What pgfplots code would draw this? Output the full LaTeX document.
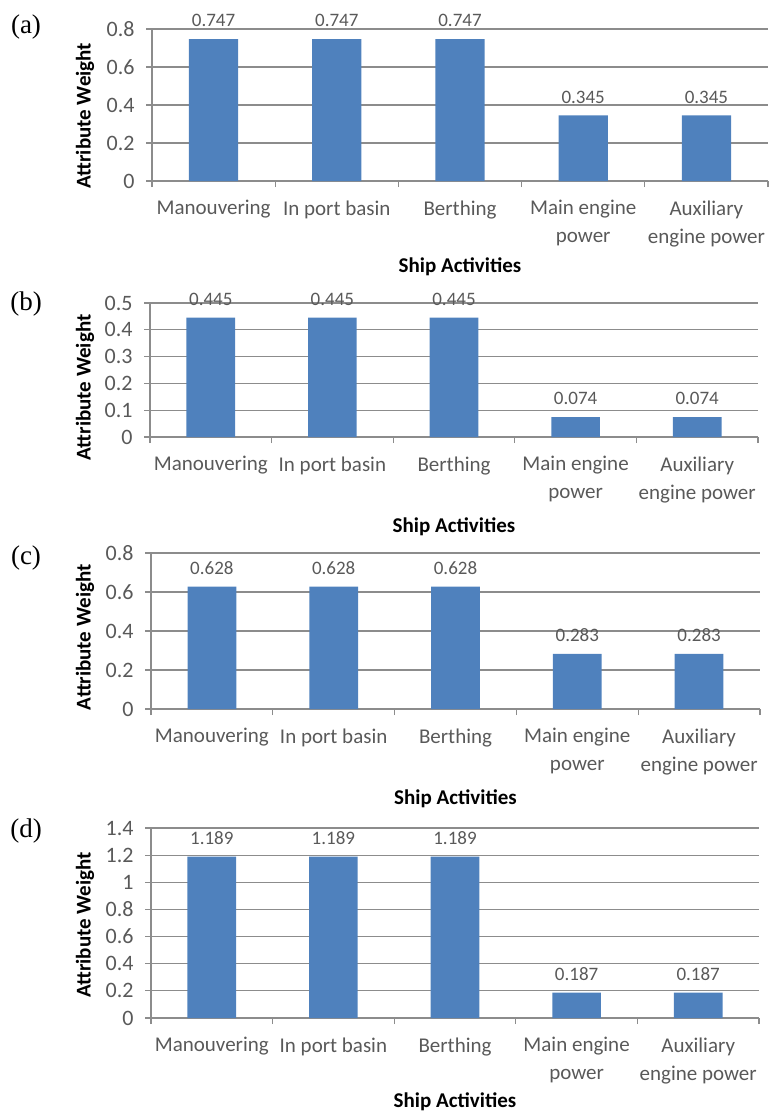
\documentclass[border=0pt]{standalone}
\usepackage{pgfplots}
\pgfplotsset{compat=1.18}
\usepackage{fontspec}
\setmainfont{Carlito}
\newfontfamily\panelfont{Liberation Serif}
\definecolor{barblue}{HTML}{4F81BD}
\definecolor{gridgray}{HTML}{8C8C8C}
\definecolor{txtgray}{HTML}{595959}
\pgfplotsset{
  panel/.style={
    scale only axis,
    xmin=-0.5, xmax=4.5, ymin=0,
    axis lines*=left,
    axis line style={gridgray, line width=1.2pt},
    ymajorgrids,
    grid style={gridgray, line width=1.2pt},
    tick align=outside,
    major tick length=6pt,
    tick style={gridgray, line width=1.2pt},
    xtick={-0.5,0.5,1.5,2.5,3.5,4.5},
    x tick label as interval,
    xticklabels={Manouvering, In port basin, Berthing, {Main engine\\power}, {Auxiliary\\engine power}},
    xticklabel style={align=center, font=\fontsize{21}{28}\selectfont, text=txtgray, yshift=-10pt},
    yticklabel style={font=\fontsize{22}{26}\selectfont, text=txtgray, xshift=-8pt},
    xlabel={Ship Activities},
    ylabel={Attribute Weight},
    xlabel style={font=\fontsize{21}{25}\selectfont\bfseries, anchor=center},
    ylabel style={font=\fontsize{21}{25}\selectfont\bfseries, anchor=center},
    clip=false,
    point meta=explicit symbolic,
    nodes near coords,
    every node near coord/.append style={font=\fontsize{19}{22}\selectfont, text=txtgray, inner sep=2pt, yshift=10pt},
  },
  barstyle/.style={ybar, bar width=0.4, fill=barblue, draw=none},
}
\begin{document}
\begin{tikzpicture}
\useasboundingbox (0pt,0pt) rectangle (768pt,-1115pt);

% (a)
\node[font=\panelfont\fontsize{27}{30}\selectfont] at (26pt,-27pt) {(a)};
\begin{axis}[panel, at={(152pt,-181pt)}, anchor=south west, width=616pt, height=152pt,
  ymax=0.8, ytick={0,0.2,0.4,0.6,0.8}, yticklabels={0,0.2,0.4,0.6,0.8},
  xlabel style={at={(axis description cs:0.5,0)}, yshift=-86pt},
  ylabel style={at={([xshift=-67pt]axis description cs:0,0.43)}}]
\addplot[barstyle] coordinates {(0,0.747) [0.747] (1,0.747) [0.747] (2,0.747) [0.747] (3,0.345) [0.345] (4,0.345) [0.345]};
\end{axis}

% (b)
\node[font=\panelfont\fontsize{27}{30}\selectfont] at (26pt,-304pt) {(b)};
\begin{axis}[panel, at={(150pt,-437pt)}, anchor=south west, width=608pt, height=134pt,
  ymax=0.5, ytick={0,0.1,0.2,0.3,0.4,0.5}, yticklabels={0,0.1,0.2,0.3,0.4,0.5},
  xlabel style={at={(axis description cs:0.5,0)}, yshift=-90pt},
  ylabel style={at={([xshift=-65pt]axis description cs:0,0.37)}}]
\addplot[barstyle] coordinates {(0,0.445) [0.445] (1,0.445) [0.445] (2,0.445) [0.445] (3,0.074) [0.074] (4,0.074) [0.074]};
\end{axis}

% (c)
\node[font=\panelfont\fontsize{27}{30}\selectfont] at (26pt,-558pt) {(c)};
\begin{axis}[panel, at={(151pt,-709pt)}, anchor=south west, width=609pt, height=156pt,
  ymax=0.8, ytick={0,0.2,0.4,0.6,0.8}, yticklabels={0,0.2,0.4,0.6,0.8},
  xlabel style={at={(axis description cs:0.5,0)}, yshift=-90pt},
  ylabel style={at={([xshift=-66pt]axis description cs:0,0.46)}}]
\addplot[barstyle] coordinates {(0,0.628) [0.628] (1,0.628) [0.628] (2,0.628) [0.628] (3,0.283) [0.283] (4,0.283) [0.283]};
\end{axis}

% (d)
\node[font=\panelfont\fontsize{27}{30}\selectfont] at (26pt,-831pt) {(d)};
\begin{axis}[panel, at={(151pt,-1018pt)}, anchor=south west, width=608pt, height=190pt,
  ymax=1.4, ytick={0,0.2,0.4,0.6,0.8,1,1.2,1.4}, yticklabels={0,0.2,0.4,0.6,0.8,1,1.2,1.4},
  xlabel style={at={(axis description cs:0.5,0)}, yshift=-84pt},
  ylabel style={at={([xshift=-66pt]axis description cs:0,0.49)}}]
\addplot[barstyle] coordinates {(0,1.189) [1.189] (1,1.189) [1.189] (2,1.189) [1.189] (3,0.187) [0.187] (4,0.187) [0.187]};
\end{axis}
\end{tikzpicture}
\end{document}
